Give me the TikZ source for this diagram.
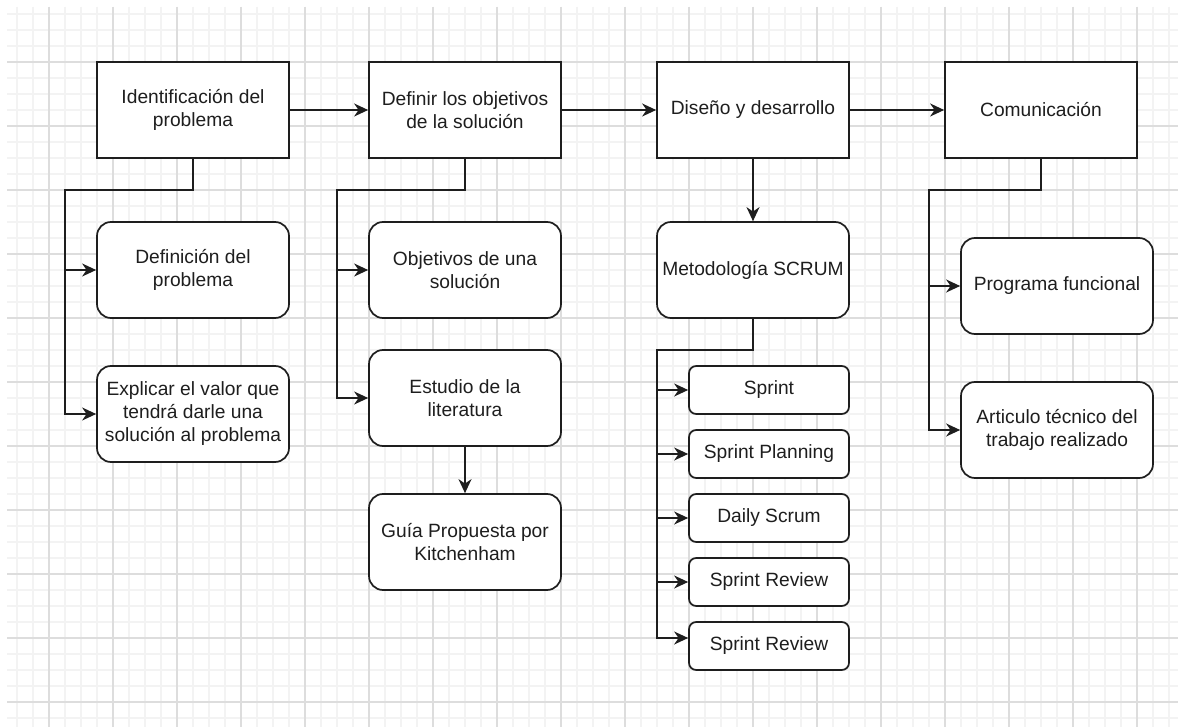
\documentclass[tikz,border=0pt]{standalone}
\usepackage{fontspec}
\setmainfont{Liberation Sans}
\usetikzlibrary{arrows.meta}
\definecolor{ink}{HTML}{1E1E1E}
\definecolor{gridminor}{HTML}{F3F3F3}
\definecolor{gridmajor}{HTML}{DDDDDD}
\tikzset{
  box/.style={draw=ink, line width=0.85pt, fill=white, minimum width=96pt, minimum height=48pt,
    align=center, inner sep=2pt, font=\fontsize{9.6pt}{11.5pt}\selectfont, text=ink},
  rbox/.style={box, rounded corners=7pt},
  sbox/.style={box, rounded corners=3.6pt, minimum width=80pt, minimum height=24pt},
  link/.style={draw=ink, line width=0.85pt},
  arr/.style={link, -{Stealth[length=7pt, width=6.5pt, inset=2.2pt]}},
  gminor/.style={draw=gridminor, line width=0.6pt},
  gmajor/.style={draw=gridmajor, line width=0.6pt}
}
\begin{document}
\begin{tikzpicture}[x=0.5pt, y=-0.5pt]
  % page and background grid
  \fill[white] (0,0) rectangle (1178,727);
  \useasboundingbox (0,0) rectangle (1178,727);
  \foreach \k in {-2,...,70} \draw[gminor] ({49+16*\k},7) -- ({49+16*\k},727);
  \foreach \k in {-3,...,41} \draw[gminor] (7,{62+16*\k}) -- (1178,{62+16*\k});
  \foreach \k in {0,4,...,68} \draw[gmajor] ({49+16*\k},7) -- ({49+16*\k},727);
  \foreach \k in {0,4,...,40} \draw[gmajor] (7,{62+16*\k}) -- (1178,{62+16*\k});

  % main process steps
  \node[box] (ident) at (193,110) {Identificación del\\problema};
  \node[box] (defobj) at (465,110) {Definir los objetivos\\de la solución};
  \node[box] (design) at (753,110) {Diseño y desarrollo};
  \node[box] (comm) at (1041,110) {Comunicación};

  % first column
  \node[rbox] (defprob) at (193,270) {Definición del\\problema};
  \node[rbox] (value) at (193,414) {Explicar el valor que\\tendrá darle una\\solución al problema};

  % second column
  \node[rbox] (goals) at (465,270) {Objetivos de una\\solución};
  \node[rbox] (lit) at (465,398) {Estudio de la\\literatura};
  \node[rbox] (guide) at (465,542) {Guía Propuesta por\\Kitchenham};

  % third column
  \node[rbox] (scrum) at (753,270) {Metodología SCRUM};
  \node[sbox] (s1) at (769,390) {Sprint};
  \node[sbox] (s2) at (769,454) {Sprint Planning};
  \node[sbox] (s3) at (769,518) {Daily Scrum};
  \node[sbox] (s4) at (769,582) {Sprint Review};
  \node[sbox] (s5) at (769,646) {Sprint Review};

  % fourth column
  \node[rbox] (prog) at (1057,286) {Programa funcional};
  \node[rbox] (paper) at (1057,430) {Articulo técnico del\\trabajo realizado};

  % junction points of the branch lines
  \coordinate (j1) at (65,190);
  \coordinate (j2) at (337,190);
  \coordinate (j3) at (657,350);
  \coordinate (j4) at (929,190);

  % connectors
  \draw[arr] (ident.east) -- (defobj.west);
  \draw[arr] (defobj.east) -- (design.west);
  \draw[arr] (design.east) -- (comm.west);

  \draw[arr] (ident.south) |- (j1) |- (defprob.west);
  \draw[arr] (j1) |- (value.west);

  \draw[arr] (defobj.south) |- (j2) |- (goals.west);
  \draw[arr] (j2) |- (lit.west);
  \draw[arr] (lit.south) -- (guide.north);

  \draw[arr] (design.south) -- (scrum.north);
  \draw[arr] (scrum.south) |- (j3) |- (s1.west);
  \draw[arr] (j3) |- (s2.west);
  \draw[arr] (j3) |- (s3.west);
  \draw[arr] (j3) |- (s4.west);
  \draw[arr] (j3) |- ([yshift=4pt]s5.west);

  \draw[arr] (comm.south) |- (j4) |- (prog.west);
  \draw[arr] (j4) |- (paper.west);
\end{tikzpicture}
\end{document}
